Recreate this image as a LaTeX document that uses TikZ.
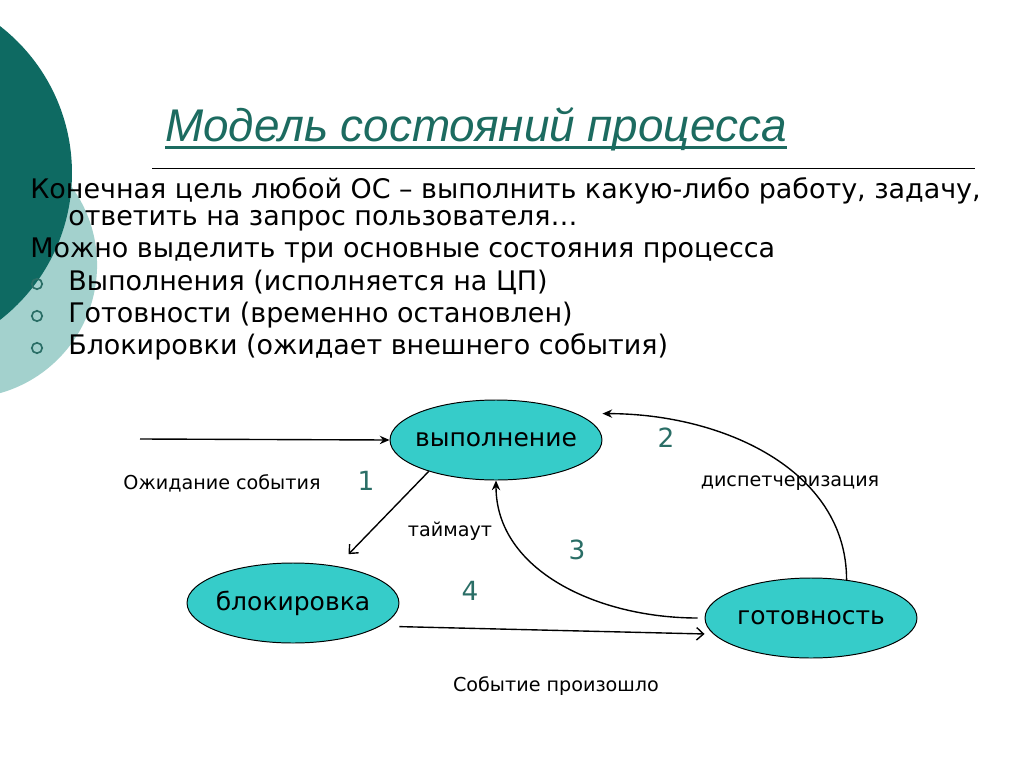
\documentclass[tikz,border=0pt]{standalone}
\usepackage{fontspec}
\setmainfont{DejaVu Sans}
\newfontfamily\headfont{Liberation Sans}
\usetikzlibrary{arrows.meta,shapes.geometric}
\definecolor{slideDark}{HTML}{0E6A62}
\definecolor{slideLight}{HTML}{A3D1CD}
\definecolor{stateFill}{HTML}{36CCC9}
\definecolor{headTeal}{HTML}{1C6B60}
\definecolor{digitTeal}{HTML}{2A6E66}
\tikzset{
  state/.style={ellipse, draw=black, line width=0.7pt, fill=stateFill,
    minimum width=152.6pt, minimum height=57.6pt, inner xsep=-15pt, inner ysep=0pt,
    font=\fontsize{18}{21}\selectfont},
  bodytext/.style={anchor=base west, inner sep=0pt, font=\fontsize{19.4}{23}\selectfont},
  bullet/.style={circle, draw=digitTeal, line width=1.2pt, minimum size=7.5pt, inner sep=0pt},
  edgelabel/.style={inner sep=0pt, font=\fontsize{13.8}{16}\selectfont},
  stepnum/.style={inner sep=0pt, text=digitTeal, font=\fontsize{19}{22}\selectfont},
  filledarrow/.style={line width=1pt, -{Stealth[length=7pt,width=6pt]}},
  openarrow/.style={line width=1pt, -{Straight Barb[length=5pt,width=9pt]}}
}

\begin{document}
\begin{tikzpicture}[x=0.72pt, y=-0.72pt]
  \clip (0,0) rectangle (1024,767);
  \fill[white] (0,0) rectangle (1024,767);
  % decorative circles at the left edge
  \fill[slideLight] (-36,265) circle (95.8pt);
  \fill[slideDark] (-114,173) circle (133.9pt);

  % title and rule
  \node[anchor=base west, inner sep=0pt, text=headTeal,
    font=\headfont\itshape\fontsize{33}{37}\selectfont] (title) at (165,141) {Модель состояний процесса};
  \draw[headTeal, line width=2.2pt] ([yshift=-5pt]title.base west) -- ([yshift=-5pt]title.base east);
  \draw[black, line width=0.6pt] (152,168) -- (975,168);

  % text of the slide
  \node[bodytext] (line1) at (30,198) {Конечная цель любой ОС – выполнить какую-либо работу, задачу,};
  \node[bodytext] (line2) at (68,225) {ответить на запрос пользователя…};
  \node[bodytext] (line3) at (30,257) {Можно выделить три основные состояния процесса};
  \node[bodytext] (item1) at (68,290) {Выполнения (исполняется на ЦП)};
  \node[bodytext] (item2) at (68,322) {Готовности (временно остановлен)};
  \node[bodytext] (item3) at (68,354) {Блокировки (ожидает внешнего события)};
  \node[bullet] (dot1) at (37,284) {};
  \node[bullet] (dot2) at (37,316) {};
  \node[bullet] (dot3) at (37,348) {};

  % states
  \node[state] (run) at (496,440) {выполнение};
  \node[state] (block) at (293,603) {блокировка};
  \node[state] (ready) at (811,618) {готовность};
  \coordinate (entry) at (140,439);

  % transitions
  \draw[filledarrow] (entry) -- (run.west);
  \draw[openarrow, shorten >=12pt] (run.205) -- (block.40);
  \draw[filledarrow] (ready.47) .. controls +(0,-110) and +(120,0) .. ([yshift=19pt]run.east);
  \draw[filledarrow] ([xshift=-5pt]ready.west) .. controls +(-100,0) and +(0,90) .. (run.south);
  \draw[openarrow] ([yshift=-17pt]block.east) -- ([yshift=-11.5pt]ready.west);

  % labels
  \node[edgelabel] (waitlbl) at (222,483) {Ожидание события};
  \node[edgelabel] (timelbl) at (450,531) {таймаут};
  \node[edgelabel] (displbl) at (790,483) {диспетчеризация};
  \node[edgelabel] (eventlbl) at (556,686) {Событие произошло};
  \node[stepnum] (n1) at (366,481) {1};
  \node[stepnum] (n2) at (666,438) {2};
  \node[stepnum] (n3) at (577,550) {3};
  \node[stepnum] (n4) at (470,591) {4};
\end{tikzpicture}
\end{document}
